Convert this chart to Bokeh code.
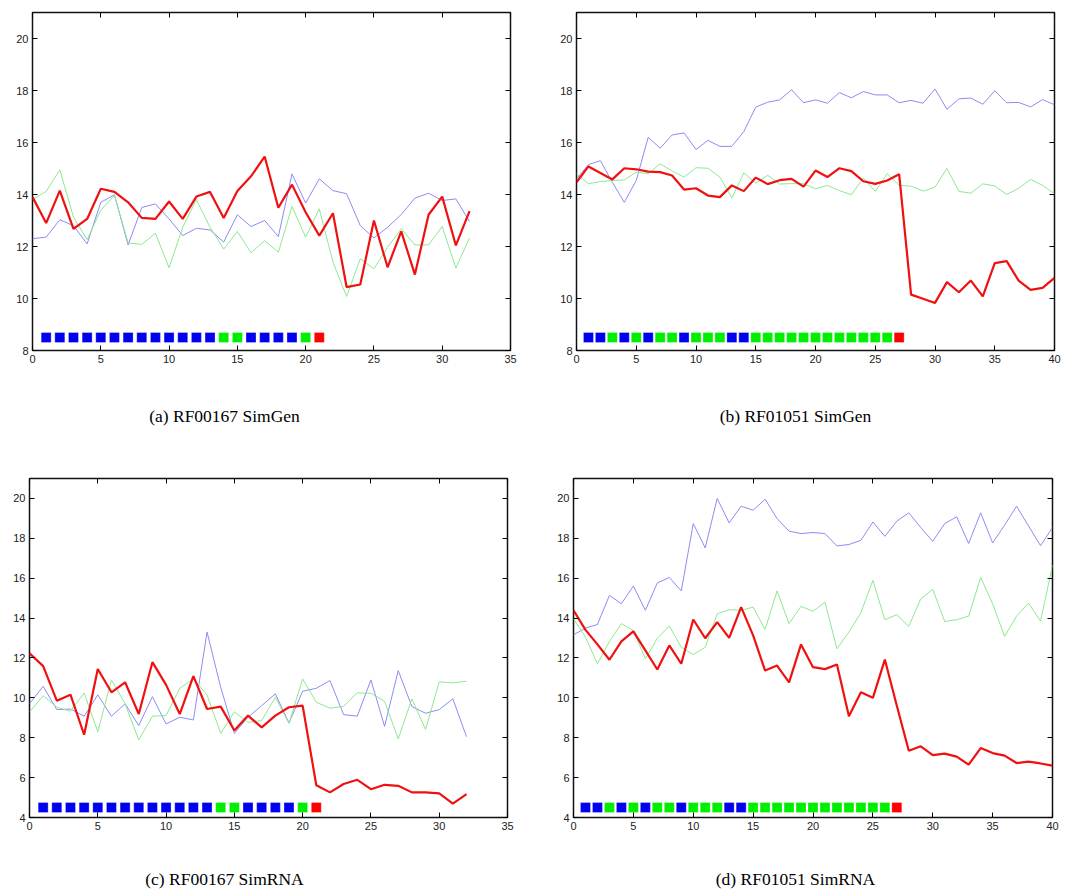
from bokeh.plotting import figure
from bokeh.models import LinearAxis, FixedTicker, Range1d, ColumnDataSource, Label
from bokeh.layouts import column, row
from bokeh.transform import factor_cmap
from bokeh.embed import file_html
from bokeh.resources import INLINE

# ---------------- data ----------------
a_x = list(range(33))
a_red = [13.9, 12.9, 14.15, 12.68, 13.06, 14.22, 14.1, 13.7, 13.1, 13.06, 13.73, 13.06, 13.92, 14.1, 13.1, 14.13,
         14.7, 15.46, 13.49, 14.38, 13.32, 12.42, 13.28, 10.44, 10.54, 13.0, 11.2, 12.58, 10.92, 13.22, 13.92, 12.04, 13.36]
a_blue = [12.3, 12.36, 13.03, 12.8, 12.1, 13.7, 13.99, 12.06, 13.5, 13.64, 13.06, 12.42, 12.7, 12.64, 12.17, 13.22,
          12.77, 13.0, 12.38, 14.79, 13.67, 14.6, 14.15, 14.03, 12.8, 12.33, 12.74, 13.23, 13.86, 14.05, 13.77, 13.83, 12.96]
a_green = [13.8, 14.12, 14.95, 13.13, 12.26, 13.4, 13.96, 12.14, 12.08, 12.51, 11.18, 12.74, 13.8, 12.74, 11.9, 12.58,
           11.76, 12.23, 11.78, 13.54, 12.36, 13.45, 11.4, 10.08, 11.53, 11.14, 11.97, 12.68, 12.06, 12.06, 12.77, 11.17, 12.33]
a_sq_x = list(range(1, 22))
a_sq_cat = ["B"] * 13 + ["G", "G"] + ["B"] * 4 + ["G", "R"]

b_x = list(range(41))
b_red = [14.47, 15.08, 14.83, 14.58, 15.01, 14.97, 14.88, 14.86, 14.73, 14.19,
         14.24, 13.96, 13.9, 14.35, 14.13, 14.65, 14.4, 14.55, 14.6, 14.3,
         14.92, 14.67, 15.01, 14.9, 14.51, 14.41, 14.54, 14.78, 10.15, 9.99,
         9.83, 10.63, 10.24, 10.69, 10.08, 11.36, 11.44, 10.69, 10.33, 10.41, 10.79]
b_green = [14.8, 14.41, 14.5, 14.54, 14.56, 14.86, 14.8, 15.18, 14.9, 14.67,
           15.03, 15.01, 14.67, 13.87, 14.83, 14.44, 14.74, 14.4, 14.42, 14.41,
           14.22, 14.35, 14.15, 13.99, 14.63, 14.12, 14.8, 14.35, 14.32, 14.13,
           14.28, 15.01, 14.12, 14.05, 14.41, 14.33, 14.0, 14.24, 14.58, 14.35, 14.03]
b_blue = [14.6, 15.15, 15.3, 14.47, 13.7, 14.54, 16.2, 15.78, 16.29, 16.37,
          15.73, 16.08, 15.85, 15.85, 16.42, 17.36, 17.55, 17.64, 18.03, 17.53,
          17.64, 17.51, 17.92, 17.72, 17.96, 17.83, 17.83, 17.53, 17.62, 17.51,
          18.06, 17.28, 17.68, 17.71, 17.47, 17.99, 17.53, 17.54, 17.37, 17.65, 17.45]
b_sq_x = list(range(1, 28))
b_sq_cat = ["B", "B", "G", "B", "G", "B", "G", "G", "B", "G", "G", "G", "B", "B"] + ["G"] * 12 + ["R"]

c_x = list(range(33))
c_red = [12.24, 11.59, 9.86, 10.16, 8.15, 11.45, 10.28, 10.78, 9.19, 11.79,
         10.65, 9.19, 11.09, 9.44, 9.56, 8.36, 9.11, 8.52, 9.11, 9.53,
         9.61, 5.62, 5.26, 5.68, 5.89, 5.42, 5.64, 5.59, 5.26, 5.26,
         5.21, 4.7, 5.17]
c_blue = [9.7, 10.58, 9.41, 9.44, 9.08, 10.15, 9.08, 9.7, 8.61, 10.06,
          8.69, 9.03, 8.89, 13.3, 10.53, 8.22, 9.03, 9.61, 10.2, 8.74,
          10.33, 10.48, 10.87, 9.16, 9.08, 10.9, 8.57, 11.37, 9.56, 9.23,
          9.41, 9.95, 8.05]
c_green = [9.28, 10.11, 9.53, 9.33, 10.25, 8.3, 10.9, 9.7, 7.89, 9.08,
           9.11, 10.48, 10.95, 10.15, 8.22, 9.3, 8.77, 8.86, 10.03, 8.72,
           10.95, 9.78, 9.48, 9.58, 10.25, 10.23, 9.83, 7.94, 9.95, 8.41,
           10.8, 10.75, 10.83]
c_sq_x = list(range(1, 22))
c_sq_cat = ["B"] * 13 + ["G", "G"] + ["B"] * 4 + ["G", "R"]

d_x = list(range(41))
d_blue = [13.16, 13.5, 13.68, 15.14, 14.72, 15.61, 14.39, 15.76, 16.04, 15.36,
          18.74, 17.52, 20.0, 18.77, 19.61, 19.41, 19.96, 18.99, 18.36, 18.24,
          18.29, 18.24, 17.62, 17.69, 17.9, 18.82, 18.1, 18.86, 19.28, 18.54,
          17.85, 18.74, 19.08, 17.74, 19.28, 17.77, 18.66, 19.61, 18.62, 17.63, 18.54]
d_green = [13.97, 13.05, 11.71, 12.83, 13.72, 13.38, 11.96, 12.99, 13.6, 12.54,
           12.17, 12.54, 14.22, 14.42, 14.39, 14.55, 13.43, 15.36, 13.72, 14.59,
           14.34, 14.8, 12.46, 13.3, 14.27, 15.89, 13.92, 14.17, 13.58, 14.97,
           15.44, 13.83, 13.92, 14.1, 16.04, 14.72, 13.08, 14.1, 14.75, 13.85, 16.65]
d_red = [14.39, 13.41, 12.68, 11.91, 12.83, 13.33, 12.38, 11.42, 12.63, 11.71,
         13.93, 12.99, 13.8, 13.01, 14.55, 13.13, 11.37, 11.62, 10.78, 12.68,
         11.54, 11.44, 11.67, 9.08, 10.28, 10.0, 11.92, 9.6, 7.35, 7.57,
         7.13, 7.2, 7.05, 6.65, 7.48, 7.23, 7.1, 6.73, 6.8, 6.71, 6.6]
d_sq_x = list(range(1, 28))
d_sq_cat = ["B", "B", "G", "B", "G", "B", "G", "G", "B", "G", "G", "G", "B", "B"] + ["G"] * 12 + ["R"]

captions = ["(a) RF00167 SimGen", "(b) RF01051 SimGen", "(c) RF00167 SimRNA", "(d) RF01051 SimRNA"]
x_ticks_35 = [0, 5, 10, 15, 20, 25, 30, 35]
x_ticks_40 = [0, 5, 10, 15, 20, 25, 30, 35, 40]
y_ticks_top = [8, 10, 12, 14, 16, 18, 20]
y_ticks_bottom = [4, 6, 8, 10, 12, 14, 16, 18, 20]
square_level_top = 8.5
square_level_bottom = 4.5

# ---------------- styling ----------------
BLUE_LINE = "#8c8cf5"
GREEN_LINE = "#8ee88e"
RED_LINE = "#f01010"
SQ_FACTORS = ["B", "G", "R"]
SQ_COLORS = ["#0000f0", "#00ee00", "#ff0000"]
TICK_FONT = "Liberation Sans"
CAP_FONT = "Liberation Serif"
CAP_SIZE = "17.5px"


def style_axis(ax, ticks, labels=True):
    ax.ticker = FixedTicker(ticks=ticks)
    ax.axis_line_color = None
    ax.major_tick_in = 5
    ax.major_tick_out = 0
    ax.minor_tick_in = 0
    ax.minor_tick_out = 0
    ax.major_tick_line_color = "black"
    ax.major_tick_line_width = 1
    if labels:
        ax.major_label_text_font = TICK_FONT
        ax.major_label_text_font_size = "11px"
        ax.major_label_text_color = "#222222"
        ax.major_label_standoff = 4
    else:
        ax.major_label_text_font_size = "0px"
        ax.major_label_text_alpha = 0
        ax.major_label_standoff = 0


def panel(xs, blue, green, red, sq_x, sq_cat, sq_level, xmax, ymin, xticks, yticks,
          width, height, bl, br, bt, bb):
    p = figure(width=width, height=height, x_range=Range1d(0, xmax), y_range=Range1d(ymin, 21),
               output_backend="svg", toolbar_location=None,
               min_border_left=bl, min_border_right=br, min_border_top=bt, min_border_bottom=bb,
               background_fill_color="white", border_fill_color="white")
    p.xgrid.visible = False
    p.ygrid.visible = False
    p.outline_line_color = "#111111"
    p.outline_line_width = 1.5
    p.outline_line_alpha = 1.0

    style_axis(p.xaxis[0], xticks)
    style_axis(p.yaxis[0], yticks)

    top = LinearAxis()
    style_axis(top, xticks, labels=False)
    p.add_layout(top, "above")
    right = LinearAxis()
    style_axis(right, yticks, labels=False)
    p.add_layout(right, "right")

    p.line(xs, blue, line_color=BLUE_LINE, line_width=1)
    p.line(xs, green, line_color=GREEN_LINE, line_width=1)
    p.line(xs, red, line_color=RED_LINE, line_width=2.2)

    src = ColumnDataSource(dict(x=sq_x, y=[sq_level] * len(sq_x), cat=sq_cat))
    cmap = factor_cmap("cat", palette=SQ_COLORS, factors=SQ_FACTORS)
    p.scatter("x", "y", source=src, marker="square", size=10,
              fill_color=cmap, line_color="white", line_width=0.6, line_alpha=0.5)
    return p


def caption_strip(text, width, height, cx, cy_from_top):
    # a frameless strip (pixel coordinates) that carries a subfigure caption
    c = figure(width=width, height=height, x_range=Range1d(0, width), y_range=Range1d(height, 0),
               output_backend="svg", toolbar_location=None, x_axis_type=None, y_axis_type=None,
               min_border=0, min_border_left=0, min_border_right=0, min_border_top=0, min_border_bottom=0,
               background_fill_color="white", border_fill_color="white")
    c.outline_line_color = None
    c.xgrid.visible = False
    c.ygrid.visible = False
    c.add_layout(Label(x=cx, y=cy_from_top, text=text, text_align="center", text_baseline="middle",
                       text_font=CAP_FONT, text_font_size=CAP_SIZE, text_color="black"))
    return c


pa = panel(a_x, a_blue, a_green, a_red, a_sq_x, a_sq_cat, square_level_top, 35, 8, x_ticks_35, y_ticks_top,
           532, 380, 32, 22, 12, 30)
pb = panel(b_x, b_blue, b_green, b_red, b_sq_x, b_sq_cat, square_level_top, 40, 8, x_ticks_40, y_ticks_top,
           530, 380, 44, 8, 12, 30)
pc = panel(c_x, c_blue, c_green, c_red, c_sq_x, c_sq_cat, square_level_bottom, 35, 4, x_ticks_35, y_ticks_bottom,
           532, 392, 29, 25, 23, 30)
pd = panel(d_x, d_blue, d_green, d_red, d_sq_x, d_sq_cat, square_level_bottom, 40, 4, x_ticks_40, y_ticks_bottom,
           530, 392, 41, 10, 23, 30)

cap_a = caption_strip(captions[0], 532, 75, 224, 35)
cap_b = caption_strip(captions[1], 530, 75, 263, 35)
cap_c = caption_strip(captions[2], 532, 44, 224, 31)
cap_d = caption_strip(captions[3], 530, 44, 263, 31)

layout = column(row(pa, pb), row(cap_a, cap_b), row(pc, pd), row(cap_c, cap_d))
open("out.html", "w").write(file_html(layout, INLINE))
